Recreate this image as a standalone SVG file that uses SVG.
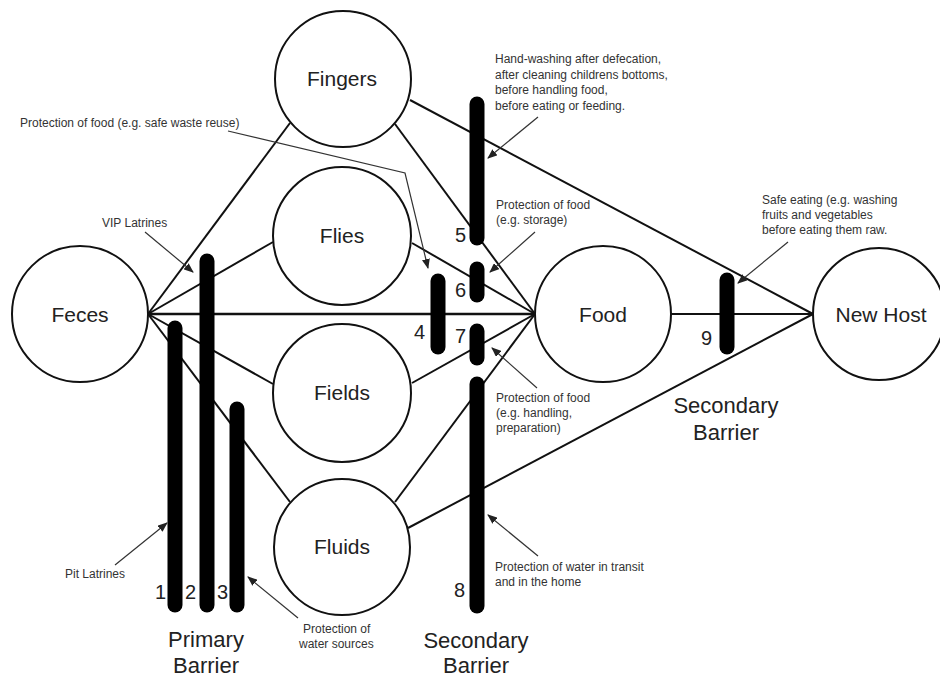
<svg xmlns="http://www.w3.org/2000/svg" width="940" height="677" viewBox="0 0 940 677">
<defs>
<marker id="ah" markerUnits="userSpaceOnUse" markerWidth="10" markerHeight="8" refX="9" refY="4" orient="auto">
<path d="M0,0 L10,4 L0,8 Z" fill="#222"/>
</marker>
<style>
.node circle{fill:#fff;stroke:#111;stroke-width:2}
.lbl{font-family:"Liberation Sans",Arial,sans-serif;font-size:21px;fill:#222;text-anchor:middle}
.num{font-family:"Liberation Sans",Arial,sans-serif;font-size:20px;fill:#222}
.bar{stroke:#000;stroke-width:15;stroke-linecap:round;fill:none}
.edge{stroke:#111;stroke-width:2;fill:none}
.ann{font-family:"Liberation Sans",Arial,sans-serif;font-size:12px;fill:#333}
.arr{stroke:#333;stroke-width:1.2;fill:none;marker-end:url(#ah)}
.big{font-family:"Liberation Sans",Arial,sans-serif;font-size:22px;fill:#222;text-anchor:middle}
</style>
</defs>
<rect width="940" height="677" fill="#fff"/>
<g id="connectors">
<line class="edge" x1="148" y1="314" x2="290" y2="123"/>
<line class="edge" x1="148" y1="314" x2="273" y2="242"/>
<line class="edge" x1="148" y1="314" x2="535" y2="314" style="stroke-width:2.5"/>
<line class="edge" x1="148" y1="314" x2="273" y2="384"/>
<line class="edge" x1="148" y1="314" x2="290" y2="502"/>
<line class="edge" x1="395" y1="124" x2="535" y2="314"/>
<line class="edge" x1="410" y1="100" x2="813" y2="314"/>
<line class="edge" x1="412" y1="243" x2="535" y2="314"/>
<line class="edge" x1="412" y1="383" x2="535" y2="314"/>
<line class="edge" x1="395" y1="502" x2="535" y2="314"/>
<line class="edge" x1="408" y1="528" x2="813" y2="314"/>
<line class="edge" x1="671" y1="314" x2="813" y2="314"/>
</g>
<g id="node-feces" class="node"><circle cx="80" cy="314" r="68"/><text class="lbl" x="80" y="322">Feces</text></g>
<g id="node-fingers" class="node"><circle cx="343" cy="79" r="68"/><text class="lbl" x="342" y="86">Fingers</text></g>
<g id="node-flies" class="node"><circle cx="342" cy="236" r="69"/><text class="lbl" x="342" y="243">Flies</text></g>
<g id="node-fields" class="node"><circle cx="342" cy="393" r="69"/><text class="lbl" x="342" y="400">Fields</text></g>
<g id="node-fluids" class="node"><circle cx="342" cy="547" r="68"/><text class="lbl" x="342" y="554">Fluids</text></g>
<g id="node-food" class="node"><circle cx="603" cy="314" r="68"/><text class="lbl" x="603" y="322">Food</text></g>
<g id="node-newhost" class="node"><circle cx="879" cy="314" r="66"/><text class="lbl" x="881" y="322">New Host</text></g>
<g id="barriers">
<line class="bar" x1="175" y1="328" x2="175" y2="605"/>
<line class="bar" x1="207" y1="261" x2="207" y2="605"/>
<line class="bar" x1="237" y1="409" x2="237" y2="605"/>
<line class="bar" x1="438" y1="281" x2="438" y2="347"/>
<line class="bar" x1="477" y1="104" x2="477" y2="238"/>
<line class="bar" x1="477" y1="269" x2="477" y2="295"/>
<line class="bar" x1="477" y1="331" x2="477" y2="358"/>
<line class="bar" x1="477" y1="384" x2="477" y2="606"/>
<line class="bar" x1="727" y1="280" x2="727" y2="347"/>
<text class="num" x="155" y="599">1</text>
<text class="num" x="185" y="599">2</text>
<text class="num" x="217" y="599">3</text>
<text class="num" x="414" y="339">4</text>
<text class="num" x="455" y="242">5</text>
<text class="num" x="455" y="297">6</text>
<text class="num" x="455" y="343">7</text>
<text class="num" x="454" y="597">8</text>
<text class="num" x="701" y="345">9</text>
</g>
<g id="annotations">
<text class="ann" x="20" y="127">Protection of food (e.g. safe waste reuse)</text>
<polyline class="arr" points="228,131 405,173 428,268"/>
<text class="ann" x="102" y="227">VIP Latrines</text>
<line class="arr" x1="145" y1="232" x2="193" y2="272"/>
<text class="ann" x="495" y="63">Hand-washing after defecation,</text>
<text class="ann" x="495" y="79">after cleaning childrens bottoms,</text>
<text class="ann" x="495" y="94">before handling food,</text>
<text class="ann" x="495" y="110">before eating or feeding.</text>
<line class="arr" x1="538" y1="117" x2="488" y2="158"/>
<text class="ann" x="496" y="209">Protection of food</text>
<text class="ann" x="496" y="224">(e.g. storage)</text>
<line class="arr" x1="535" y1="232" x2="490" y2="272"/>
<text class="ann" x="496" y="402">Protection of food</text>
<text class="ann" x="496" y="417">(e.g. handling,</text>
<text class="ann" x="496" y="432">preparation)</text>
<line class="arr" x1="537" y1="388" x2="492" y2="348"/>
<text class="ann" x="495" y="571">Protection of water in transit</text>
<text class="ann" x="495" y="586">and in the home</text>
<line class="arr" x1="538" y1="556" x2="488" y2="515"/>
<text class="ann" x="762" y="204">Safe eating (e.g. washing</text>
<text class="ann" x="762" y="219">fruits and vegetables</text>
<text class="ann" x="762" y="234">before eating them raw.</text>
<line class="arr" x1="788" y1="242" x2="738" y2="283"/>
<text class="ann" x="65" y="578">Pit Latrines</text>
<line class="arr" x1="115" y1="565" x2="167" y2="523"/>
<text class="ann" x="303" y="633">Protection of</text>
<text class="ann" x="299" y="648">water sources</text>
<line class="arr" x1="298" y1="618" x2="248" y2="577"/>
<text class="big" x="206" y="647">Primary</text>
<text class="big" x="206" y="673">Barrier</text>
<text class="big" x="476" y="648">Secondary</text>
<text class="big" x="476" y="673">Barrier</text>
<text class="big" x="726" y="413">Secondary</text>
<text class="big" x="726" y="440">Barrier</text>
</g>
</svg>
